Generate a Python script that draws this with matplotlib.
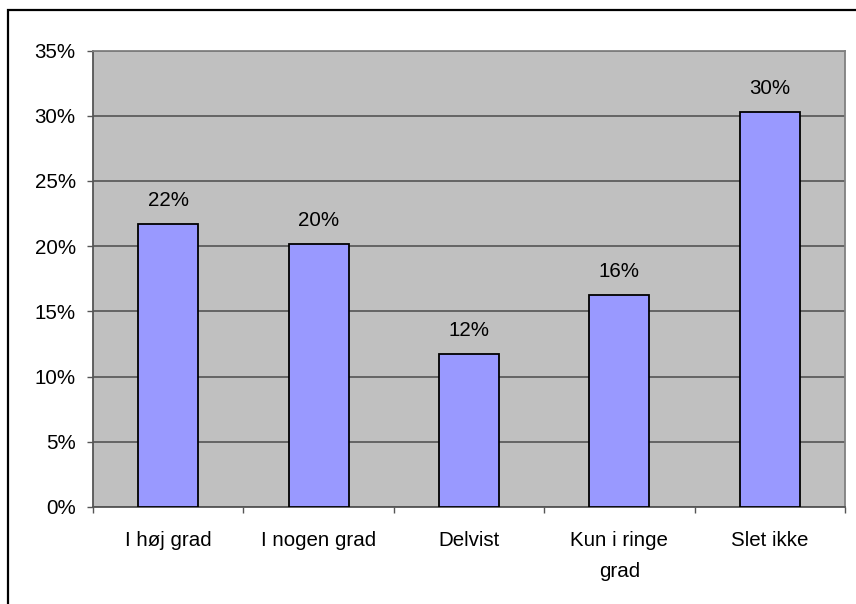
import matplotlib
matplotlib.use("Agg")
import matplotlib.pyplot as plt
from matplotlib.patches import Rectangle
from matplotlib.ticker import FixedLocator, NullFormatter, FuncFormatter

categories = ["I høj grad", "I nogen grad", "Delvist", "Kun i ringe\ngrad", "Slet ikke"]
values = [21.68, 20.14, 11.73, 16.26, 30.27]
labels = ["22%", "20%", "12%", "16%", "30%"]
yticks = [0, 5, 10, 15, 20, 25, 30, 35]

plt.rcParams['font.family'] = ['Liberation Sans', 'DejaVu Sans']
FS = 14.8

W, H = 856, 604
fig = plt.figure(figsize=(W / 100, H / 100), dpi=100)
fig.patch.set_facecolor("white")

# outer frame (left/top visible)
fig.patches.append(Rectangle((8 / W, -0.05), 1.2, 1 - 10 / H + 0.05, transform=fig.transFigure,
                             fill=False, edgecolor="black", linewidth=1.6))

left, right, top, bottom = 93, 845, 50.5, 507
ax = fig.add_axes([left / W, 1 - bottom / H, (right - left) / W, (bottom - top) / H])
ax.set_facecolor("#C0C0C0")

x = list(range(len(categories)))
ax.bar(x, values, width=0.4, color="#9999FF", edgecolor="black", linewidth=1.3, zorder=3)
for xi, v, lab in zip(x, values, labels):
    ax.annotate(lab, (xi, v), xytext=(0, 13.2), textcoords="offset points",
                ha="center", va="baseline", fontsize=FS, color="black")

ax.set_xlim(-0.5, len(categories) - 0.5)
ax.set_ylim(0, 35)
ax.set_yticks(yticks)
ax.yaxis.set_major_formatter(FuncFormatter(lambda v, p: f"{int(v)}%"))
ax.yaxis.grid(True, color="#555555", linewidth=1.2, zorder=1)
ax.set_axisbelow(True)

ax.xaxis.set_major_locator(FixedLocator([i - 0.5 for i in range(len(categories) + 1)]))
ax.xaxis.set_major_formatter(NullFormatter())
ax.xaxis.set_minor_locator(FixedLocator(x))
ax.set_xticklabels(categories, minor=True, fontsize=FS, linespacing=1.83, va="top")
ax.tick_params(axis="x", which="minor", length=0, pad=17)
ax.tick_params(axis="x", which="major", length=4, width=1, color="#555555", direction="out")
ax.tick_params(axis="y", length=4.5, width=1, color="#555555", labelsize=FS, pad=8)

for s in ax.spines.values():
    s.set_color("#808080")
    s.set_linewidth(1.3)
ax.spines["left"].set_color("#555555")
ax.spines["bottom"].set_color("#555555")

fig.savefig("out.png", dpi=100)
